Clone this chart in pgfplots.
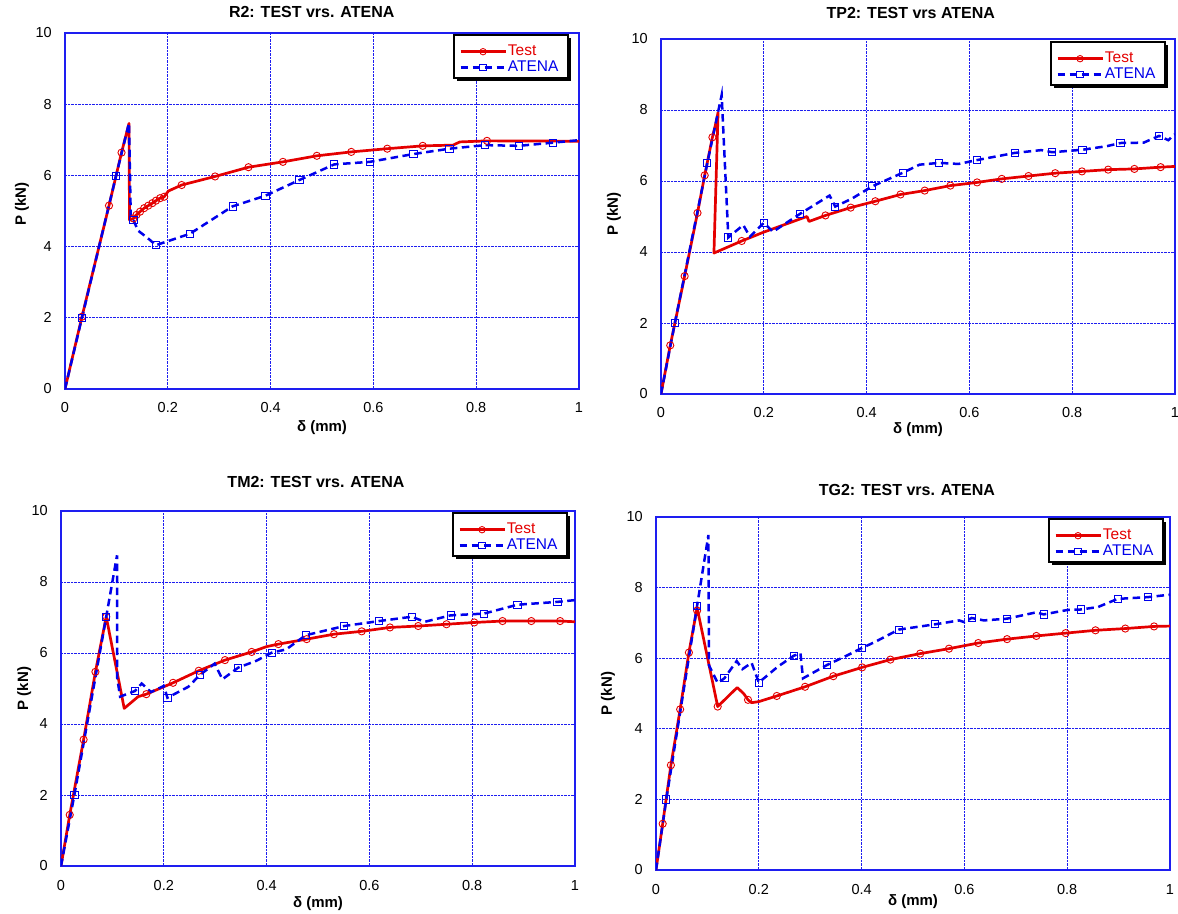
\documentclass[border=0pt]{standalone}
\usepackage{fontspec}
\setmainfont{Liberation Sans}
\usepackage{pgfplots}
\pgfplotsset{compat=1.18}
\definecolor{tred}{RGB}{228,0,0}
\definecolor{ablue}{RGB}{0,0,235}
\definecolor{gblue}{RGB}{30,30,240}

% legend frame with black shadow: #1 = gap to right edge, #2 = gap to top edge (pt)
\newcommand\legbox[2]{%
  \fill[black] ([xshift=-#1pt-111pt, yshift=-#2pt-46pt]axis description cs:1,1) rectangle ([xshift=-#1pt+3pt, yshift=-#2pt-3pt]axis description cs:1,1);
  \draw[black, line width=1.5pt, fill=white] ([xshift=-#1pt-114pt, yshift=-#2pt-43pt]axis description cs:1,1) rectangle ([xshift=-#1pt, yshift=-#2pt]axis description cs:1,1);
}

\pgfplotsset{
  panel/.style={
    scale only axis, width=514pt,
    xmin=0,xmax=1,ymin=0,ymax=10,
    xtick={0,0.2,0.4,0.6,0.8,1}, ytick={0,2,4,6,8,10},
    xticklabels={0,0.2,0.4,0.6,0.8,1},
    yticklabels={0,2,4,6,8,10},
    grid=major,
    major grid style={gblue, densely dotted, line width=0.9pt},
    axis line style={gblue, line width=1.2pt},
    major tick length=0pt,
    tick label style={font=\fontsize{14.5}{16}\selectfont, inner sep=0pt},
    xticklabel style={anchor=base, yshift=-24pt},
    yticklabel style={anchor=east, xshift=-13pt},
    label style={font=\bfseries\fontsize{15}{17}\selectfont},
    title style={font=\bfseries\fontsize{16}{18}\selectfont, anchor=base},
    xlabel={δ (mm)}, ylabel={P (kN)},
    legend cell align=left,
    legend style={at={(axis description cs:1,1)}, anchor=north west, draw=none, fill=none,
      font=\fontsize{15.5}{17}\selectfont,
      inner sep=0pt, row sep=1pt, column sep=1pt,
      nodes={inner sep=0pt, text height=11pt, text depth=4pt}},
    legend image code/.code={\draw[##1, mark repeat=2, mark phase=2] plot coordinates {(0pt,0pt) (22.5pt,0pt) (45pt,0pt)};},
  },
  testline/.style={tred, line width=2.7pt, no markers, line join=round, forget plot},
  testmark/.style={tred, only marks, mark=o, mark size=3.6pt, mark options={line width=0.9pt, solid}, forget plot},
  atenaline/.style={ablue, line width=2.5pt, dash pattern=on 7.5pt off 4.5pt, no markers, forget plot},
  atenamark/.style={ablue, only marks, mark=square, mark size=3.6pt, mark options={line width=0.9pt, solid}, forget plot},
  testleg/.style={tred, line width=2.7pt, mark=o, mark size=3.2pt, mark options={line width=0.9pt, solid}},
  atenaleg/.style={ablue, line width=2.5pt, dash pattern=on 7.5pt off 4.5pt, mark=square, mark size=3.2pt, mark options={line width=0.9pt, solid}},
}

\begin{document}
\begin{tikzpicture}
\useasboundingbox (0pt,0pt) rectangle (1178pt,913pt);

% ---------------- R2 ----------------
\begin{axis}[panel, at={(65pt,524pt)}, anchor=south west, height=356pt,
  title={R2: TEST vrs. ATENA}, title style={at={(0.48,1)}, yshift=9pt},
  xlabel style={at={(axis description cs:0.5,0)}, anchor=base, yshift=-43pt},
  ylabel style={at={(axis description cs:-0.076,0.52)}, anchor=base},
  legend style={xshift=-120pt, yshift=-11pt}]
\addplot[testline] coordinates {(0,0) (0.033,2.03) (0.0856,5.15) (0.110,6.64) (0.1245,7.46) (0.1255,4.75) (0.133,4.79) (0.139,4.89) (0.146,4.98) (0.154,5.08) (0.162,5.15) (0.170,5.22) (0.177,5.29) (0.185,5.36) (0.193,5.40) (0.201,5.56) (0.227,5.73) (0.292,5.97) (0.357,6.23) (0.424,6.38) (0.49,6.55) (0.557,6.66) (0.627,6.75) (0.696,6.83) (0.755,6.85) (0.768,6.94) (0.821,6.97) (1,6.96)};
\addplot[testmark] coordinates {(0.033,2.03) (0.0856,5.15) (0.110,6.64) (0.133,4.79) (0.139,4.89) (0.146,4.98) (0.154,5.08) (0.162,5.15) (0.170,5.22) (0.177,5.29) (0.185,5.36) (0.193,5.40) (0.227,5.73) (0.292,5.97) (0.357,6.23) (0.424,6.38) (0.49,6.55) (0.557,6.66) (0.627,6.75) (0.696,6.83) (0.821,6.97)};
\addplot[atenaline] coordinates {(0,0) (0.033,2.0) (0.0992,5.98) (0.1245,7.47) (0.128,4.8) (0.133,4.75) (0.142,4.45) (0.16,4.25) (0.177,4.04) (0.243,4.36) (0.326,5.13) (0.39,5.43) (0.456,5.87) (0.524,6.31) (0.593,6.38) (0.678,6.60) (0.748,6.75) (0.817,6.85) (0.883,6.83) (0.95,6.92) (1,6.99)};
\addplot[atenamark] coordinates {(0.033,2.0) (0.0992,5.98) (0.133,4.75) (0.177,4.04) (0.243,4.36) (0.326,5.13) (0.39,5.43) (0.456,5.87) (0.524,6.31) (0.593,6.38) (0.678,6.60) (0.748,6.75) (0.817,6.85) (0.883,6.83) (0.95,6.92)};
\legbox{11}{2}
\addlegendimage{testleg}\addlegendentry{\textcolor{tred}{Test}}
\addlegendimage{atenaleg}\addlegendentry{\textcolor{ablue}{ATENA}}
\end{axis}

% ---------------- TP2 ----------------
\begin{axis}[panel, at={(661pt,519pt)}, anchor=south west, height=355pt,
  title={TP2: TEST vrs ATENA}, title style={at={(0.486,1)}, yshift=14pt},
  xlabel style={at={(axis description cs:0.5,0)}, anchor=base, yshift=-40pt},
  ylabel style={at={(axis description cs:-0.084,0.507)}, anchor=base},
  legend style={xshift=-119pt, yshift=-12pt}]
\addplot[testline] coordinates {(0,0) (0.018,1.37) (0.046,3.32) (0.071,5.10) (0.085,6.16) (0.100,7.23) (0.107,7.65) (0.111,7.93) (0.103,3.97) (0.157,4.31) (0.2,4.56) (0.284,5.0) (0.288,4.86) (0.32,5.03) (0.369,5.25) (0.417,5.43) (0.466,5.62) (0.513,5.73) (0.563,5.87) (0.615,5.96) (0.663,6.06) (0.715,6.14) (0.767,6.22) (0.819,6.27) (0.87,6.32) (0.921,6.34) (0.972,6.39) (1,6.41)};
\addplot[testmark] coordinates {(0.018,1.37) (0.046,3.32) (0.071,5.10) (0.085,6.16) (0.100,7.23) (0.157,4.31) (0.32,5.03) (0.369,5.25) (0.417,5.43) (0.466,5.62) (0.513,5.73) (0.563,5.87) (0.615,5.96) (0.663,6.06) (0.715,6.14) (0.767,6.22) (0.819,6.27) (0.87,6.32) (0.921,6.34) (0.972,6.39)};
\addplot[atenaline] coordinates {(0,0) (0.027,2.0) (0.09,6.5) (0.118,8.42) (0.131,4.41) (0.16,4.76) (0.173,4.43) (0.2,4.82) (0.218,4.57) (0.271,5.08) (0.328,5.59) (0.339,5.28) (0.371,5.5) (0.411,5.85) (0.47,6.23) (0.503,6.46) (0.541,6.51) (0.579,6.48) (0.615,6.59) (0.688,6.79) (0.74,6.87) (0.761,6.81) (0.82,6.88) (0.867,6.98) (0.894,7.07) (0.939,7.08) (0.969,7.27) (0.987,7.15) (1,7.32)};
\addplot[atenamark] coordinates {(0.027,2.0) (0.09,6.5) (0.131,4.41) (0.2,4.82) (0.271,5.08) (0.339,5.28) (0.411,5.85) (0.47,6.23) (0.541,6.51) (0.615,6.59) (0.688,6.79) (0.761,6.81) (0.82,6.88) (0.894,7.07) (0.969,7.27)};
\legbox{10}{3}
\addlegendimage{testleg}\addlegendentry{\textcolor{tred}{Test}}
\addlegendimage{atenaleg}\addlegendentry{\textcolor{ablue}{ATENA}}
\end{axis}

% ---------------- TM2 ----------------
\begin{axis}[panel, at={(61pt,47pt)}, anchor=south west, height=355pt,
  title={TM2: TEST vrs. ATENA}, title style={at={(0.496,1)}, yshift=17pt},
  xlabel style={at={(axis description cs:0.5,0)}, anchor=base, yshift=-41pt},
  ylabel style={at={(axis description cs:-0.064,0.5)}, anchor=base},
  legend style={xshift=-117pt, yshift=-11pt}]
\addplot[testline] coordinates {(0,0) (0.017,1.44) (0.044,3.56) (0.067,5.47) (0.088,7.02) (0.123,4.44) (0.15,4.77) (0.166,4.84) (0.218,5.16) (0.268,5.50) (0.319,5.80) (0.371,6.03) (0.4,6.18) (0.423,6.25) (0.478,6.39) (0.531,6.53) (0.585,6.61) (0.64,6.72) (0.695,6.76) (0.75,6.81) (0.804,6.86) (0.859,6.90) (0.915,6.90) (0.971,6.90) (1,6.88)};
\addplot[testmark] coordinates {(0.017,1.44) (0.044,3.56) (0.067,5.47) (0.088,7.02) (0.166,4.84) (0.218,5.16) (0.268,5.50) (0.319,5.80) (0.371,6.03) (0.423,6.25) (0.478,6.39) (0.531,6.53) (0.585,6.61) (0.64,6.72) (0.695,6.76) (0.75,6.81) (0.804,6.86) (0.859,6.90) (0.915,6.90) (0.971,6.90)};
\addplot[atenaline] coordinates {(0,0) (0.026,2.0) (0.088,7.02) (0.109,8.75) (0.109,5.33) (0.115,4.77) (0.144,4.93) (0.157,5.14) (0.175,4.9) (0.2,5.07) (0.207,4.74) (0.248,5.05) (0.27,5.38) (0.299,5.70) (0.314,5.26) (0.345,5.59) (0.38,5.78) (0.41,6.01) (0.438,6.10) (0.476,6.50) (0.551,6.76) (0.619,6.90) (0.682,7.02) (0.708,6.88) (0.758,7.06) (0.823,7.11) (0.888,7.36) (0.966,7.44) (1,7.49)};
\addplot[atenamark] coordinates {(0.026,2.0) (0.088,7.02) (0.144,4.93) (0.207,4.74) (0.27,5.38) (0.345,5.59) (0.41,6.01) (0.476,6.50) (0.551,6.76) (0.619,6.90) (0.682,7.02) (0.758,7.06) (0.823,7.11) (0.888,7.36) (0.966,7.44)};
\legbox{8}{2}
\addlegendimage{testleg}\addlegendentry{\textcolor{tred}{Test}}
\addlegendimage{atenaleg}\addlegendentry{\textcolor{ablue}{ATENA}}
\end{axis}

% ---------------- TG2 ----------------
\begin{axis}[panel, at={(656pt,43pt)}, anchor=south west, height=353pt,
  title={TG2: TEST vrs. ATENA}, title style={at={(0.488,1)}, yshift=15pt},
  xlabel style={at={(axis description cs:0.5,0)}, anchor=base, yshift=-35pt},
  ylabel style={at={(axis description cs:-0.086,0.5)}, anchor=base},
  legend style={xshift=-116pt, yshift=-11pt}]
\addplot[testline] coordinates {(0,0) (0.013,1.31) (0.029,2.97) (0.047,4.55) (0.064,6.16) (0.08,7.43) (0.12,4.63) (0.158,5.17) (0.171,4.99) (0.179,4.82) (0.186,4.74) (0.2,4.77) (0.235,4.93) (0.29,5.19) (0.345,5.49) (0.401,5.74) (0.456,5.96) (0.514,6.13) (0.57,6.27) (0.627,6.43) (0.683,6.54) (0.74,6.63) (0.797,6.71) (0.855,6.79) (0.913,6.84) (0.969,6.90) (1,6.91)};
\addplot[testmark] coordinates {(0.013,1.31) (0.029,2.97) (0.047,4.55) (0.064,6.16) (0.08,7.35) (0.12,4.63) (0.179,4.82) (0.235,4.93) (0.29,5.19) (0.345,5.49) (0.401,5.74) (0.456,5.96) (0.514,6.13) (0.57,6.27) (0.627,6.43) (0.683,6.54) (0.74,6.63) (0.797,6.71) (0.855,6.79) (0.913,6.84) (0.969,6.90)};
\addplot[atenaline] coordinates {(0,0) (0.02,2.0) (0.08,7.49) (0.102,9.49) (0.103,5.8) (0.12,5.3) (0.133,5.43) (0.157,5.92) (0.168,5.69) (0.186,5.87) (0.2,5.31) (0.237,5.76) (0.268,6.07) (0.281,6.14) (0.286,5.43) (0.333,5.81) (0.368,6.05) (0.401,6.29) (0.426,6.46) (0.472,6.81) (0.543,6.96) (0.59,7.07) (0.6,7.02) (0.614,7.14) (0.638,7.07) (0.683,7.12) (0.74,7.30) (0.754,7.24) (0.802,7.37) (0.827,7.38) (0.86,7.45) (0.898,7.68) (0.957,7.73) (1,7.80)};
\addplot[atenamark] coordinates {(0.02,2.0) (0.08,7.49) (0.133,5.43) (0.2,5.31) (0.268,6.07) (0.333,5.81) (0.401,6.29) (0.472,6.81) (0.543,6.96) (0.614,7.14) (0.683,7.12) (0.754,7.24) (0.827,7.38) (0.898,7.68) (0.957,7.73)};
\legbox{7}{2}
\addlegendimage{testleg}\addlegendentry{\textcolor{tred}{Test}}
\addlegendimage{atenaleg}\addlegendentry{\textcolor{ablue}{ATENA}}
\end{axis}
\end{tikzpicture}
\end{document}
